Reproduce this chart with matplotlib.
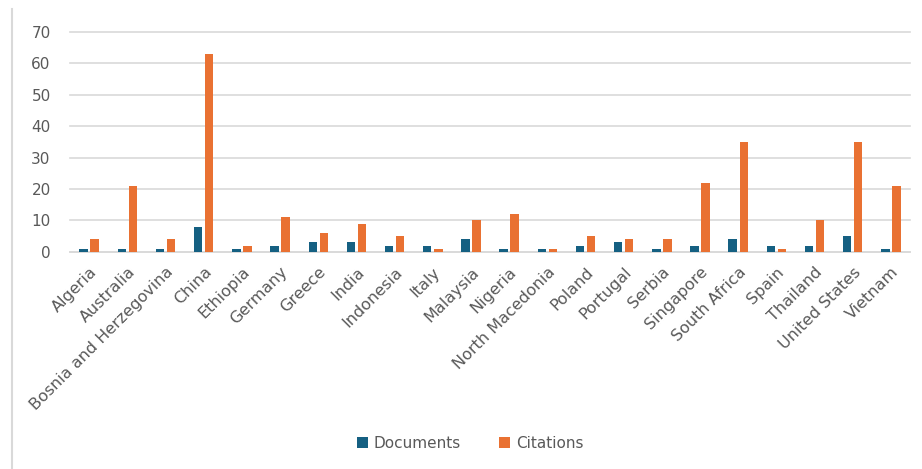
import numpy as np
import matplotlib.pyplot as plt
from matplotlib.lines import Line2D

countries = ["Algeria", "Australia", "Bosnia and Herzegovina", "China", "Ethiopia",
             "Germany", "Greece", "India", "Indonesia", "Italy", "Malaysia", "Nigeria",
             "North Macedonia", "Poland", "Portugal", "Serbia", "Singapore",
             "South Africa", "Spain", "Thailand", "United States", "Vietnam"]
documents = [1, 1, 1, 8, 1, 2, 3, 3, 2, 2, 4, 1, 1, 2, 3, 1, 2, 4, 2, 2, 5, 1]
citations = [4, 21, 4, 63, 2, 11, 6, 9, 5, 1, 10, 12, 1, 5, 4, 4, 22, 35, 1, 10, 35, 21]

fig = plt.figure(figsize=(9.22, 4.69), dpi=100)
ax = fig.add_axes([0.076, 0.463, 0.911, 0.469])

x = np.arange(len(countries))
w = 0.22
ax.bar(x - 0.145, documents, w, color="#156082", label="Documents", zorder=3)
ax.bar(x + 0.145, citations, w, color="#E97132", label="Citations", zorder=3)

ax.set_xlim(-0.5, len(countries) - 0.5)
ax.set_ylim(0, 70)
ax.set_yticks(range(0, 71, 10))
ax.yaxis.grid(True, color="#d9d9d9", linewidth=1.2, zorder=0)
for gl in ax.get_ygridlines():
    gl.set_clip_on(False)
for s in ["top", "right", "left"]:
    ax.spines[s].set_visible(False)
ax.spines["bottom"].set_color("#d9d9d9")
ax.spines["bottom"].set_linewidth(1.2)
ax.tick_params(axis="both", length=0, colors="#595959", labelsize=11)
ax.tick_params(axis="y", pad=14)
ax.tick_params(axis="x", pad=9, labelsize=11.5)
ax.set_xticks(x)
ax.set_xticklabels(countries, rotation=45, ha="right", rotation_mode="anchor")

fig.legend(loc="center", bbox_to_anchor=(0.51, 0.055), ncol=2, frameon=False,
           fontsize=11, labelcolor="#595959", handlelength=0.7, handleheight=0.7,
           columnspacing=2.5, handletextpad=0.4)

fig.add_artist(Line2D([0.013, 0.013], [0.0, 0.98], color="#d9d9d9", linewidth=1.5))

fig.savefig("out.png", dpi=100)
